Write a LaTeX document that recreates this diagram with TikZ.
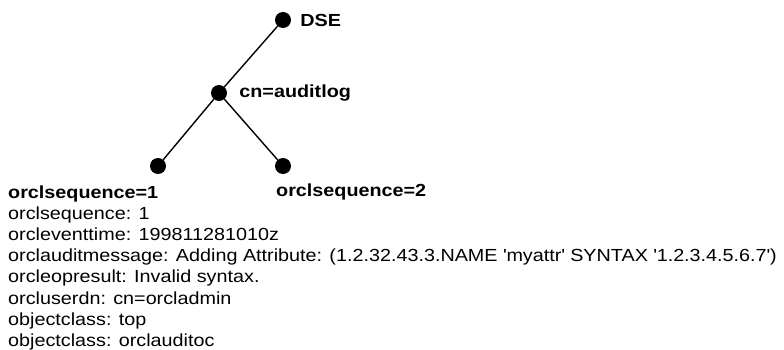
\documentclass[tikz,border=0pt]{standalone}
\usepackage{fontspec}
\setmainfont{Liberation Sans}[FakeStretch=1.13]
\usetikzlibrary{positioning}

\begin{document}
\begin{tikzpicture}[x=1pt, y=-1pt, font=\fontsize{17.5}{21.2}\selectfont]
        \tikzstyle{entry} = [circle, fill=black, inner sep=0pt, minimum size=16pt]
        \tikzstyle{tag} = [font=\fontsize{17.5}{21.2}\selectfont\bfseries, inner sep=0pt]
        \tikzstyle{line} = [draw, line width=1.4pt]

        \useasboundingbox (0,0) rectangle (784,350);

        \node [entry] (dse) at (283,20) {};
        \node [entry] (auditlog) at (219,93) {};
        \node [entry] (seq1) at (158,166) {};
        \node [entry] (seq2) at (283,166) {};

        \node [tag, anchor=west, right=9pt of dse] (dselabel) {DSE};
        \node [tag, anchor=west, right=12pt of auditlog] (auditloglabel) {cn=auditlog};
        \node [tag, anchor=base west] (seq1label) at (8,198) {orclsequence=1};
        \node [tag, anchor=base west] (seq2label) at (276,196) {orclsequence=2};

        \node [anchor=north west, inner sep=0pt, align=left] (attrs) at (8,206.5) {%
            orclsequence: 1\\
            orcleventtime: 199811281010z\\
            orclauditmessage: Adding Attribute: (1.2.32.43.3.NAME \textquotesingle myattr\textquotesingle\ SYNTAX \textquotesingle 1.2.3.4.5.6.7\textquotesingle)\\
            orcleopresult: Invalid syntax.\\
            orcluserdn: cn=orcladmin\\
            objectclass: top\\
            objectclass: orclauditoc};

        \path [line] (dse) -- (auditlog);
        \path [line] (auditlog) -- (seq1);
        \path [line] (auditlog) -- (seq2);
\end{tikzpicture}
\end{document}
